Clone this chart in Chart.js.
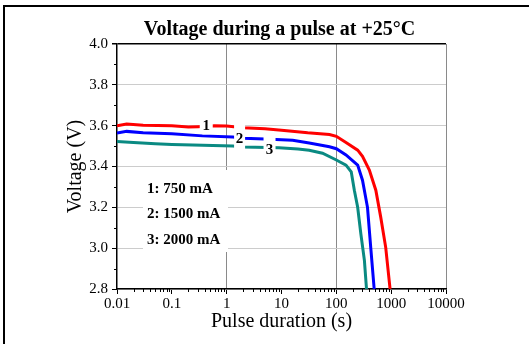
<!DOCTYPE html>
<html>
<head>
<meta charset="utf-8">
<script src="https://cdn.jsdelivr.net/npm/chart.js@4"></script>
<style>
html, body { margin: 0; padding: 0; background: #fff; }
canvas { display: block; }
</style>
</head>
<body>
<canvas id="can" width="529" height="344"></canvas>
<script>
// Valeurs
const titleText = "Voltage during a pulse at +25°C";
const seriesNames = ["1: 750 mA", "2: 1500 mA", "3: 2000 mA"];
const curveMarks = ["1", "2", "3"];

const t750 = [0.01, 0.015, 0.03, 0.1, 0.2, 0.3, 0.6, 1, 2, 5, 10, 30, 75, 100, 150, 245, 300, 400, 525, 645, 795, 955];
const v750 = [3.600, 3.608, 3.602, 3.600, 3.593, 3.595, 3.600, 3.598, 3.590, 3.585, 3.578, 3.565, 3.557, 3.548, 3.518, 3.480, 3.450, 3.383, 3.284, 3.152, 3.004, 2.800];

const t1500 = [0.01, 0.015, 0.03, 0.1, 0.36, 1.3, 2, 5, 16, 32, 75, 100, 150, 245, 300, 370, 425, 490];
const v1500 = [3.564, 3.572, 3.565, 3.560, 3.550, 3.545, 3.538, 3.535, 3.528, 3.515, 3.497, 3.487, 3.457, 3.407, 3.333, 3.200, 3.000, 2.800];

const t2000 = [0.01, 0.02, 0.05, 0.1, 0.24, 1.3, 2, 9, 20, 32, 56, 100, 150, 187, 213, 245, 280, 325, 355];
const v2000 = [3.522, 3.518, 3.512, 3.508, 3.505, 3.500, 3.495, 3.492, 3.486, 3.480, 3.465, 3.432, 3.407, 3.374, 3.284, 3.200, 3.070, 2.940, 2.800];

const xTicks = [0.01, 0.1, 1, 10, 100, 1000, 10000];
const xTickLabels = ["0.01", "0.1", "1", "10", "100", "1000", "10000"];
const yTicks = [2.8, 3.0, 3.2, 3.4, 3.6, 3.8, 4.0];

// emplacement des numéros sur les courbes (coordonnées des données)
const markT = [0.424, 1.72, 6.05];
const markV = [3.603, 3.539, 3.486];

const colors = ["#ff0000", "#0000ff", "#0a8a82"];
const serif = "'Liberation Serif', 'Times New Roman', serif";

function toPoints(ts, vs) {
    return ts.map((t, i) => ({ x: t, y: vs[i] }));
}

const allT = [t750, t1500, t2000];
const allV = [v750, v1500, v2000];

// Titre, petites graduations, numéros des courbes, encadré, cadre extérieur
const extras = {
    id: "extras",
    beforeDraw(chart) {
        const ctx = chart.ctx;
        ctx.save();
        ctx.fillStyle = "#fff";
        ctx.fillRect(0, 0, chart.width, chart.height);
        ctx.restore();
    },
    afterDatasetsDraw(chart) {
        const ctx = chart.ctx;
        const xs = chart.scales.x, ys = chart.scales.y;
        const a = chart.chartArea;
        ctx.save();

        // boîtes blanches + numéros
        const boxes = [[13, 14, 0], [11, 28, -2], [12, 22, -2]];
        ctx.font = "bold 15px " + serif;
        ctx.textAlign = "center";
        ctx.textBaseline = "middle";
        curveMarks.forEach((m, i) => {
            const px = xs.getPixelForValue(markT[i]);
            const py = ys.getPixelForValue(markV[i]);
            const b = boxes[i];
            ctx.fillStyle = "#fff";
            ctx.fillRect(px - b[0] / 2, py + b[2] - b[1] / 2, b[0], b[1]);
            ctx.fillStyle = "#000";
            ctx.fillText(m, px, py + 1);
        });

        // encadré des courants
        ctx.fillStyle = "#fff";
        ctx.fillRect(a.left + 26, a.top + 126, 85, 82);
        ctx.fillStyle = "#000";
        ctx.textAlign = "left";
        seriesNames.forEach((s, i) => {
            ctx.fillText(s, a.left + 30, a.top + 145 + i * 25.5);
        });

        // petites graduations
        ctx.strokeStyle = "#000";
        ctx.lineWidth = 1;
        ctx.beginPath();
        for (let d = 0; d < xTicks.length - 1; d++) {
            for (let k = 2; k <= 9; k++) {
                const px = Math.round(xs.getPixelForValue(xTicks[d] * k)) + 0.5;
                ctx.moveTo(px, a.bottom);
                ctx.lineTo(px, a.bottom + 3);
            }
        }
        for (let j = 0; j < yTicks.length - 1; j++) {
            const py = Math.round(ys.getPixelForValue((yTicks[j] + yTicks[j + 1]) / 2)) + 0.5;
            ctx.moveTo(a.left - 3, py);
            ctx.lineTo(a.left, py);
        }
        ctx.stroke();

        ctx.restore();
    },
    afterDraw(chart) {
        const ctx = chart.ctx;
        const a = chart.chartArea;
        ctx.save();
        // titre centré sur la zone du tracé
        ctx.fillStyle = "#000";
        ctx.font = "bold 20px " + serif;
        ctx.textAlign = "center";
        ctx.textBaseline = "middle";
        ctx.fillText(titleText, (a.left + a.right) / 2 - 2, 30);
        // cadre extérieur
        ctx.fillRect(3, 5, 2, chart.height - 5);
        ctx.fillRect(3, 5, chart.width - 3, 2);
        ctx.restore();
    }
};

const chart = new Chart(document.getElementById("can"), {
    type: "scatter",
    data: {
        datasets: seriesNames.map((name, i) => ({
            label: name,
            data: toPoints(allT[i], allV[i]),
            showLine: true,
            borderColor: colors[i],
            backgroundColor: colors[i],
            borderWidth: 3,
            pointRadius: 0,
            tension: 0
        }))
    },
    options: {
        responsive: false,
        animation: false,
        layout: { padding: { left: 0, right: 83, top: 44, bottom: 0 } },
        plugins: {
            legend: { display: false },
            tooltip: { enabled: false },
            title: { display: false }
        },
        scales: {
            x: {
                type: "logarithmic",
                min: 0.01,
                max: 10000,
                afterBuildTicks: (s) => { s.ticks = xTicks.map(v => ({ value: v })); },
                afterFit: (s) => { s.height = 55; },
                border: { color: "#000", width: 1.5 },
                grid: {
                    color: (c) => ([1, 100, 10000].includes(c.tick && c.tick.value) ? "#8a8a8a" : "rgba(0,0,0,0)"),
                    tickColor: "#000",
                    tickLength: 5
                },
                ticks: {
                    autoSkip: false,
                    maxRotation: 0,
                    padding: 1,
                    color: "#000",
                    font: { family: serif, size: 15 },
                    callback: (v) => {
                        const i = xTicks.indexOf(v);
                        return i >= 0 ? xTickLabels[i] : "";
                    }
                },
                title: {
                    display: true,
                    text: "Pulse duration (s)",
                    color: "#000",
                    font: { family: serif, size: 20 },
                    padding: { top: 0, bottom: 10 }
                }
            },
            y: {
                min: 2.8,
                max: 4.0,
                afterBuildTicks: (s) => { s.ticks = yTicks.map(v => ({ value: v })); },
                afterFit: (s) => { s.width = 117; },
                border: { color: "#000", width: 1.5 },
                grid: {
                    color: (c) => (c.tick && Math.abs(c.tick.value - 4.0) < 1e-6 ? "#000" : "#cccccc"),
                    lineWidth: (c) => (c.tick && Math.abs(c.tick.value - 4.0) < 1e-6 ? 1.5 : 1),
                    tickColor: "#000",
                    tickLength: 5
                },
                ticks: {
                    padding: 4,
                    color: "#000",
                    font: { family: serif, size: 15 },
                    callback: (v) => v.toFixed(1)
                },
                title: {
                    display: true,
                    text: "Voltage (V)",
                    color: "#000",
                    font: { family: serif, size: 20 },
                    padding: { top: 64, bottom: 0 }
                }
            }
        }
    },
    plugins: [extras]
});
</script>
</body>
</html>
